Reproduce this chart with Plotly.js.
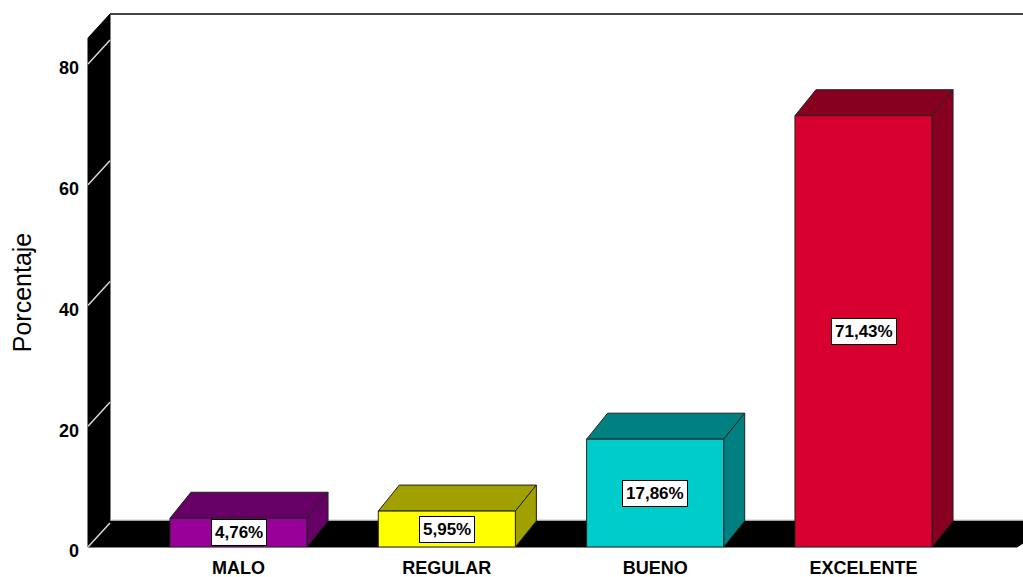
<!DOCTYPE html>
<html><head><meta charset="utf-8">
<script src="https://cdn.plot.ly/plotly-3.0.1.min.js"></script>
<style>html,body{margin:0;padding:0;background:#fff;overflow:hidden}</style>
</head><body><div id="chart" style="width:1023px;height:577px"></div>
<script>
const categories = ['MALO', 'REGULAR', 'BUENO', 'EXCELENTE'];
const percentages = [4.76, 5.95, 17.86, 71.43];
const yTickValues = [0, 20, 40, 60, 80];
const frontColors = ['#990099', '#ffff00', '#00cccc', '#d7002f'];
const shadeColors = ['#660066', '#a0a000', '#008080', '#880020'];

const W = 1023, H = 577;
const M = {l: 88, r: 6, t: 38, b: 30};
const plotW = W - M.l - M.r, plotH = H - M.t - M.b;
const xRange = [-0.7224, 3.7368];
const yRange = [0, 84.3];
const BAR_W = 0.658;
const DX = 21, DY = 26;
const pxPerCat = plotW / (xRange[1] - xRange[0]);
const pxPerUnit = plotH / (yRange[1] - yRange[0]);
const halfPx = BAR_W / 2 * pxPerCat;
const dyData = DY / pxPerUnit;
const xIdx = categories.map((c, i) => i);
const FONT = 'Liberation Sans, Arial, sans-serif';

const shapes = [];
const paperPx = {xref: 'paper', yref: 'paper', xsizemode: 'pixel', ysizemode: 'pixel', xanchor: 0, yanchor: 0, layer: 'below'};
// left wall
shapes.push(Object.assign({}, paperPx, {type: 'path',
  path: `M0,0 L0,${plotH} L22,${plotH + 24} L22,26 Z`,
  fillcolor: '#000', line: {color: '#000', width: 1}}));
// floor
shapes.push(Object.assign({}, paperPx, {type: 'path',
  path: `M0,0 L22,26 L${plotW + 40},26 L${plotW},0 Z`,
  fillcolor: '#000', line: {color: '#000', width: 1}}));
// light edge between floor and back wall
shapes.push(Object.assign({}, paperPx, {type: 'path',
  path: `M22,27 L${plotW + 40},27`, line: {color: '#c8c8c8', width: 1}}));
// back wall top border
shapes.push(Object.assign({}, paperPx, {type: 'path',
  path: `M22,${plotH + 24} L${plotW + 40},${plotH + 24}`, line: {color: '#444', width: 2}}));
// tick lines on the wall
yTickValues.forEach(v => {
  shapes.push({type: 'line', xref: 'paper', xsizemode: 'pixel', xanchor: 0, x0: 0, x1: 22,
    yref: 'y', y0: v, y1: v + 24 / pxPerUnit, layer: 'below',
    line: {color: '#d8d8d8', width: 1.5}});
});
// bar top and side faces
percentages.forEach((v, i) => {
  const base = {type: 'path', xref: 'x', yref: 'y', xsizemode: 'pixel', xanchor: xIdx[i], layer: 'below',
    fillcolor: shadeColors[i], line: {color: '#222', width: 1}};
  shapes.push(Object.assign({}, base, {
    path: `M${-halfPx},${v} L${halfPx},${v} L${halfPx + DX},${v + dyData} L${-halfPx + DX},${v + dyData} Z`}));
  shapes.push(Object.assign({}, base, {
    path: `M${halfPx},${v} L${halfPx + DX},${v + dyData} L${halfPx + DX},${dyData} L${halfPx},0 Z`}));
});

const annotations = percentages.map((v, i) => ({
  x: xIdx[i], y: v / 2, xref: 'x', yref: 'y', showarrow: false,
  text: v.toFixed(2).replace('.', ',') + '%',
  font: {family: FONT, size: 17, color: '#000', weight: 'bold'},
  bgcolor: '#fff', bordercolor: '#000', borderwidth: 1, borderpad: 3
}));

const trace = {
  type: 'bar', x: xIdx, y: percentages, width: BAR_W,
  marker: {color: frontColors, line: {color: '#222', width: 1}},
  hoverinfo: 'none'
};

const layout = {
  width: W, height: H, margin: M, showlegend: false,
  paper_bgcolor: '#fff', plot_bgcolor: 'rgba(0,0,0,0)',
  xaxis: {range: xRange, tickvals: xIdx, ticktext: categories, showgrid: false, zeroline: false,
    showline: false, ticks: '', automargin: false, ticklabelstandoff: 8, fixedrange: true,
    tickfont: {family: FONT, size: 18, color: '#000', weight: 'bold'}},
  yaxis: {range: yRange, tickvals: yTickValues, showgrid: false, zeroline: false, showline: false,
    ticks: '', automargin: false, ticklabelstandoff: 8, ticklabelshift: 4, fixedrange: true,
    tickfont: {family: FONT, size: 18, color: '#000', weight: 'bold'},
    title: {text: 'Porcentaje', standoff: 20, font: {family: FONT, size: 25, color: '#000'}}},
  shapes: shapes, annotations: annotations
};

Plotly.newPlot('chart', [trace], layout, {displayModeBar: false, staticPlot: true});
</script></body></html>
